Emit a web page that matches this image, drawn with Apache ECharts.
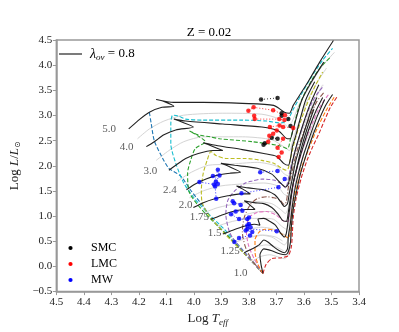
<!DOCTYPE html>
<html><head><meta charset="utf-8">
<script src="https://cdn.jsdelivr.net/npm/echarts@6/dist/echarts.min.js"></script>
<style>html,body{margin:0;padding:0;background:#fff}#c{width:399px;height:332px}</style>
</head><body><div id="c"></div>
<script>
// ---------- black tracks (log Teff, log L) ----------
const track50 = [[4.237,2.732],[4.205,2.889],[4.162,3.064],[4.116,3.162],[4.073,3.182],[4.109,3.279],[4.137,3.318],[4.073,3.260],[3.966,3.260],[3.824,3.240],[3.710,3.201],[3.671,3.064],[3.653,3.045],[3.639,3.201],[3.621,3.357],[3.585,3.670],[3.543,4.061],[3.493,4.490]];
const track40 = [[4.173,2.381],[4.144,2.479],[4.109,2.615],[4.066,2.713],[4.002,2.771],[4.044,2.869],[4.073,2.928],[4.030,2.889],[3.895,2.830],[3.753,2.771],[3.692,2.693],[3.660,2.537],[3.650,2.537],[3.639,2.732],[3.625,3.006],[3.607,3.318],[3.575,3.650],[3.528,4.061]];
const track30 = [[4.091,1.912],[4.066,2.010],[4.030,2.146],[3.984,2.244],[3.931,2.303],[3.895,2.303],[3.938,2.400],[3.966,2.459],[3.913,2.400],[3.824,2.322],[3.746,2.244],[3.699,2.186],[3.674,2.049],[3.657,2.010],[3.649,2.146],[3.642,2.381],[3.628,2.635],[3.614,2.928],[3.593,3.318],[3.561,3.670]];
const track24 = [[4.027,1.523],[3.995,1.639],[3.956,1.737],[3.913,1.815],[3.867,1.854],[3.831,1.873],[3.874,1.990],[3.902,2.049],[3.852,2.010],[3.770,1.951],[3.717,1.834],[3.689,1.678],[3.667,1.580],[3.657,1.639],[3.649,1.854],[3.639,2.146],[3.625,2.439],[3.603,2.830],[3.578,3.221],[3.546,3.611]];
const track20 = [[4.002,1.170],[3.966,1.268],[3.924,1.346],[3.877,1.404],[3.831,1.443],[3.795,1.443],[3.824,1.541],[3.845,1.600],[3.802,1.561],[3.746,1.521],[3.706,1.424],[3.685,1.287],[3.671,1.190],[3.660,1.248],[3.653,1.463],[3.642,1.756],[3.632,2.049],[3.617,2.342],[3.596,2.732],[3.575,3.084],[3.553,3.357]];
const track175 = [[3.938,0.936],[3.902,1.014],[3.859,1.092],[3.813,1.131],[3.778,1.131],[3.802,1.248],[3.817,1.307],[3.781,1.268],[3.746,1.248],[3.717,1.170],[3.696,1.053],[3.678,0.916],[3.664,0.896],[3.657,1.072],[3.649,1.365],[3.639,1.658],[3.625,1.990],[3.610,2.342],[3.589,2.732],[3.564,3.123]];
const track15 = [[3.895,0.643],[3.859,0.721],[3.817,0.799],[3.781,0.838],[3.760,0.818],[3.767,0.936],[3.746,0.955],[3.724,0.896],[3.703,0.818],[3.685,0.662],[3.671,0.584],[3.664,0.662],[3.657,0.936],[3.649,1.268],[3.639,1.658],[3.621,2.049],[3.603,2.381],[3.582,2.732],[3.557,3.084],[3.532,3.357]];
const track125 = [[3.817,0.272],[3.788,0.350],[3.763,0.428],[3.746,0.525],[3.731,0.486],[3.710,0.389],[3.689,0.311],[3.671,0.272],[3.660,0.350],[3.657,0.584],[3.649,0.877],[3.642,1.209],[3.632,1.561],[3.617,1.912],[3.600,2.244],[3.578,2.596],[3.553,2.967],[3.525,3.318]];
const track10 = [[3.749,-0.138],[3.756,0.037],[3.760,0.232],[3.746,0.350],[3.717,0.311],[3.689,0.252],[3.667,0.232],[3.657,0.291],[3.649,0.486],[3.646,0.779],[3.639,1.131],[3.628,1.463],[3.614,1.815],[3.596,2.146],[3.575,2.498],[3.550,2.850],[3.521,3.201],[3.496,3.416]];

// ---------- coloured dashed tracks ----------
const blueDash = [[3.749,-0.138],[3.820,0.272],[3.872,0.584],[3.925,0.877],[3.963,1.170],[4.010,1.502],[4.048,1.795],[4.091,1.951],[4.119,2.205],[4.144,2.498],[4.155,2.830],[4.162,3.064]];
const cyanDash = [[3.749,-0.138],[3.820,0.311],[3.890,0.740],[3.952,1.072],[4.000,1.365],[4.037,1.658],[4.066,2.049],[4.084,2.439],[4.084,2.830],[4.077,3.006],[4.055,2.986],[4.030,2.928],[3.966,2.908],[3.824,2.908],[3.735,2.889],[3.685,2.850],[3.660,2.908],[3.639,3.123],[3.610,3.416],[3.575,3.748],[3.532,4.100],[3.496,4.334]];
const greenDash = [[3.749,-0.138],[3.820,0.291],[3.890,0.682],[3.962,1.072],[4.016,1.463],[4.023,1.854],[4.012,2.107],[3.995,2.342],[3.959,2.479],[3.991,2.615],[4.016,2.693],[3.984,2.615],[3.941,2.576],[3.906,2.537],[3.788,2.479],[3.689,2.400],[3.660,2.342],[3.649,2.537],[3.635,2.830],[3.621,3.123],[3.603,3.377],[3.571,3.709],[3.539,3.963],[3.504,4.158]];
const oliveDash = [[3.749,-0.138],[3.820,0.272],[3.890,0.662],[3.945,1.014],[3.970,1.268],[3.973,1.521],[3.966,1.854],[3.952,2.107],[3.938,2.283],[3.920,2.205],[3.884,2.146],[3.813,2.146],[3.753,2.107],[3.710,2.049],[3.681,1.951],[3.664,1.912],[3.657,1.951],[3.649,2.146],[3.639,2.381],[3.621,2.732],[3.603,3.025],[3.582,3.318],[3.557,3.611],[3.532,3.865]];
const purpleDash = [[3.749,-0.138],[3.806,0.213],[3.859,0.564],[3.874,0.740],[3.884,1.033],[3.877,1.307],[3.852,1.502],[3.813,1.658],[3.788,1.697],[3.753,1.736],[3.710,1.717],[3.681,1.639],[3.667,1.561],[3.660,1.658],[3.649,1.951],[3.635,2.244],[3.617,2.576],[3.596,2.928],[3.571,3.260],[3.546,3.475],[3.528,3.592]];
const brownDash = [[3.749,-0.138],[3.788,0.115],[3.813,0.389],[3.824,0.682],[3.817,0.975],[3.795,1.229],[3.770,1.346],[3.735,1.385],[3.710,1.365],[3.689,1.326],[3.671,1.229],[3.664,1.287],[3.657,1.561],[3.642,1.912],[3.625,2.303],[3.603,2.635],[3.578,2.986],[3.553,3.279],[3.525,3.475]];
const pinkDash = [[3.749,-0.138],[3.781,0.154],[3.802,0.428],[3.810,0.740],[3.799,0.975],[3.770,1.072],[3.735,1.092],[3.699,1.014],[3.671,0.896],[3.657,0.896],[3.653,1.072],[3.646,1.365],[3.635,1.717],[3.617,2.107],[3.596,2.479],[3.571,2.830],[3.543,3.162],[3.511,3.416]];
const orangeDash = [[3.749,-0.138],[3.767,0.037],[3.778,0.291],[3.778,0.525],[3.763,0.682],[3.742,0.740],[3.706,0.721],[3.674,0.623],[3.657,0.564],[3.649,0.682],[3.646,0.975],[3.639,1.268],[3.625,1.600],[3.607,1.990],[3.582,2.342],[3.553,2.732],[3.521,3.084],[3.489,3.377]];
const redDash = [[3.749,-0.138],[3.738,0.037],[3.717,0.154],[3.681,0.174],[3.657,0.213],[3.646,0.389],[3.642,0.682],[3.639,0.975],[3.628,1.365],[3.610,1.756],[3.589,2.107],[3.568,2.381],[3.546,2.635],[3.528,2.869],[3.504,3.162],[3.479,3.377]];

// ---------- light grey tracks ----------
const grey1 = [[4.205,2.537],[4.162,2.732],[4.109,2.889],[4.037,3.006],[3.895,3.045],[3.753,3.025],[3.689,2.928],[3.657,2.771],[3.639,2.928],[3.617,3.221],[3.582,3.553],[3.539,3.943],[3.489,4.256]];
const grey2 = [[4.137,2.107],[4.091,2.303],[4.037,2.479],[3.966,2.576],[3.824,2.576],[3.717,2.518],[3.674,2.381],[3.653,2.303],[3.639,2.537],[3.617,2.889],[3.589,3.279],[3.553,3.650],[3.518,3.943]];
const grey3 = [[4.059,1.697],[4.009,1.873],[3.948,2.010],[3.877,2.029],[3.770,2.068],[3.699,1.990],[3.671,1.834],[3.653,1.795],[3.642,2.049],[3.625,2.400],[3.600,2.791],[3.568,3.221],[3.532,3.611]];
const grey4 = [[4.016,1.365],[3.966,1.502],[3.902,1.600],[3.824,1.639],[3.746,1.658],[3.696,1.600],[3.674,1.443],[3.660,1.404],[3.649,1.658],[3.635,2.049],[3.614,2.439],[3.585,2.889],[3.553,3.279]];
const grey5 = [[3.970,1.053],[3.913,1.170],[3.842,1.248],[3.770,1.287],[3.717,1.248],[3.685,1.131],[3.667,1.053],[3.657,1.170],[3.646,1.463],[3.632,1.854],[3.610,2.244],[3.582,2.635],[3.553,3.025]];
const grey6 = [[3.916,0.799],[3.859,0.896],[3.788,0.955],[3.746,0.955],[3.710,0.936],[3.681,0.799],[3.664,0.740],[3.653,0.877],[3.646,1.170],[3.635,1.561],[3.617,1.951],[3.593,2.342],[3.564,2.732]];
const grey7 = [[3.856,0.467],[3.806,0.564],[3.760,0.623],[3.717,0.584],[3.689,0.486],[3.671,0.428],[3.660,0.506],[3.653,0.779],[3.646,1.131],[3.635,1.463]];
const grey8 = [[3.788,0.096],[3.760,0.193],[3.724,0.232],[3.696,0.193],[3.671,0.154],[3.657,0.232],[3.649,0.486],[3.646,0.779]];
const grey9 = [[3.802,0.740],[3.753,0.779],[3.710,0.740],[3.681,0.662],[3.667,0.623]];
const grey10 = [[3.788,0.584],[3.746,0.623],[3.703,0.584],[3.678,0.506]];
const grey11 = [[3.810,1.033],[3.760,1.092],[3.717,1.092],[3.685,0.994]];
const grey12 = [[3.774,0.389],[3.738,0.428],[3.703,0.389],[3.674,0.311]];

// ---------- observed stars ----------
const smcStars = [[3.756,3.318],[3.696,3.348],[3.681,3.045],[3.681,2.996],[3.657,2.928],[3.649,2.791],[3.717,2.557],[3.696,2.537],[3.742,2.449],[3.747,2.420]];
const smcLink1 = [[3.756,3.318],[3.696,3.348]];
const smcLink2 = [[3.742,2.449],[3.717,2.557],[3.696,2.537]];
const lmcStars = [[3.802,3.094],[3.783,3.162],[3.712,3.104],[3.669,3.006],[3.781,2.996],[3.779,2.928],[3.690,2.928],[3.671,2.908],[3.724,2.771],[3.689,2.801],[3.676,2.771],[3.639,2.752],[3.699,2.703],[3.712,2.635],[3.726,2.596],[3.730,2.479],[3.676,2.537],[3.696,2.361],[3.681,2.264],[3.692,2.176]];
const lmcLink1 = [[3.802,3.094],[3.783,3.162],[3.712,3.104],[3.669,3.006]];
const lmcLink2 = [[3.781,2.996],[3.779,2.928],[3.690,2.928],[3.671,2.908]];
const lmcLink3 = [[3.724,2.771],[3.689,2.801],[3.676,2.771],[3.639,2.752]];
const lmcLink4 = [[3.699,2.703],[3.712,2.635],[3.726,2.596],[3.730,2.479]];
const lmcLink5 = [[3.676,2.537],[3.696,2.361],[3.681,2.264],[3.692,2.176]];
const mwStars = [[3.980,1.678],[3.927,1.629],[3.913,1.922],[3.907,1.805],[3.931,1.795],[3.920,1.688],[3.913,1.639],[3.923,1.590],[3.919,1.346],[3.759,1.873],[3.696,1.898],[3.670,1.736],[3.693,1.574],[3.827,1.453],[3.859,1.297],[3.854,1.258],[3.830,1.219],[3.865,1.039],[3.836,0.941],[3.806,0.941],[3.800,0.975],[3.800,0.844],[3.806,0.813],[3.794,0.779],[3.806,0.746],[3.812,0.715],[3.788,0.682],[3.796,0.617],[3.853,0.486],[3.836,0.564],[3.699,0.701],[3.824,1.105],[3.848,1.092]];
const mwLink1 = [[3.759,1.873],[3.696,1.898]];
const mwLink2 = [[3.827,1.453],[3.693,1.574],[3.670,1.736]];
const mwLink3 = [[3.806,0.746],[3.699,0.701]];
const mwLink4 = [[3.980,1.678],[3.927,1.629],[3.913,1.922],[3.907,1.805],[3.920,1.688],[3.923,1.590],[3.919,1.346]];
const mwLink5 = [[3.859,1.297],[3.830,1.219],[3.824,1.105],[3.848,1.092],[3.865,1.039],[3.836,0.941],[3.806,0.941],[3.800,0.844],[3.812,0.715],[3.788,0.682],[3.796,0.617],[3.836,0.564],[3.853,0.486]];

// ---------- mass labels ----------
const massLabels = ['5.0','4.0','3.0','2.4','2.0','1.75','1.5','1.25','1.0'];
const massLabelPos = [[4.308,2.732],[4.245,2.375],[4.158,1.893],[4.087,1.516],[4.030,1.215],[3.980,0.975],[3.925,0.668],[3.868,0.305],[3.830,-0.133]];

const titleText = 'Z = 0.02';
const legendNames = ['SMC','LMC','MW'];
const legendColors = ['#000000','#ff0000','#0000ff'];

// ---------- build chart ----------
const SERIF = '"Liberation Serif","DejaVu Serif","Times New Roman",serif';
const chart = echarts.init(document.getElementById('c'), null, {renderer:'canvas'});
function ln(data, color, width, type, z, smooth) {
  return {type:'line', data:data, symbol:'none', showSymbol:false, smooth:smooth===undefined?0.25:smooth,
    lineStyle:{color:color, width:width, type:type}, z:z, silent:true, animation:false};
}
function dots(data, color) {
  return {type:'scatter', data:data, symbol:'circle', symbolSize:4.5, itemStyle:{color:color}, z:10, silent:true, animation:false};
}
const series = [];
[grey1,grey2,grey3,grey4,grey5,grey6,grey7,grey8,grey9,grey10,grey11,grey12].forEach(g=>series.push(ln(g,'#d4d4d4',1,'solid',1)));
const dash = [4,2];
series.push(ln(blueDash,'#1f77b4',1.1,dash,2));
series.push(ln(cyanDash,'#17becf',1.1,dash,2));
series.push(ln(greenDash,'#2ca02c',1.1,dash,2));
series.push(ln(oliveDash,'#bcbd22',1.1,dash,2));
series.push(ln(purpleDash,'#9467bd',1.1,dash,2));
series.push(ln(brownDash,'#8c564b',1.1,[5,2,1,2],2));
series.push(ln(pinkDash,'#e377c2',1.1,dash,2));
series.push(ln(orangeDash,'#ff7f0e',1.1,dash,2));
series.push(ln(redDash,'#d62728',1.1,dash,2));
[track50,track40,track30,track24,track20,track175,track15,track125,track10].forEach(t=>series.push(ln(t,'#222',1.1,'solid',3)));
[smcLink1,smcLink2].forEach(l=>series.push(ln(l,'#000',0.8,[1,2],9,false)));
[lmcLink1,lmcLink2,lmcLink3,lmcLink4,lmcLink5].forEach(l=>series.push(ln(l,'#ff0000',0.8,[1,2],9,false)));
[mwLink1,mwLink2,mwLink3,mwLink4,mwLink5].forEach(l=>series.push(ln(l,'#0000ff',0.8,[1,2],9,false)));
series.push(dots(smcStars,'#000000'));
series.push(dots(lmcStars,'#ff0000'));
series.push(dots(mwStars,'#0000ff'));
series.push({type:'scatter', data:massLabelPos.map((p,i)=>[p[0],p[1],massLabels[i]]), symbolSize:0, silent:true, animation:false, z:11,
  label:{show:true, position:'inside', formatter:p=>p.data[2], color:'#333', fontFamily:SERIF, fontSize:11}});

const axisCol = '#999';
const fmt = v => (Math.abs(v) < 1e-9 ? 0 : v).toFixed(1).replace('-', '\u2212');
chart.setOption({
  animation:false,
  backgroundColor:'#fff',
  title:{text:titleText, left:204, top:21, textAlign:'center', textStyle:{fontFamily:SERIF, fontSize:13, fontWeight:'normal', color:'#000'}},
  grid:{left:50, right:40, top:40, bottom:37, show:true, borderColor:axisCol, borderWidth:1.5, backgroundColor:'transparent'},
  xAxis:{type:'value', inverse:true, min:3.4, max:4.5, interval:0.1,
    axisLine:{show:true, onZero:false, lineStyle:{color:axisCol, width:1.5}}, axisTick:{show:true, inside:false, length:3.5, lineStyle:{color:axisCol}},
    splitLine:{show:false}, axisLabel:{formatter:fmt, color:'#222', fontFamily:SERIF, fontSize:11, margin:5},
    name:'Log {i|T}{s|eff}', nameLocation:'middle', nameGap:16,
    nameTextStyle:{fontFamily:SERIF, fontSize:13, color:'#222', rich:{i:{fontFamily:SERIF, fontSize:13, fontStyle:'italic', color:'#222'}, s:{fontFamily:SERIF, fontSize:9, fontStyle:'italic', color:'#222', padding:[7,0,0,0]}}}},
  yAxis:{type:'value', min:-0.5, max:4.5, interval:0.5,
    axisLine:{show:true, onZero:false, lineStyle:{color:axisCol, width:1.5}}, axisTick:{show:true, inside:false, length:3.5, lineStyle:{color:axisCol}},
    splitLine:{show:false}, axisLabel:{formatter:fmt, color:'#222', fontFamily:SERIF, fontSize:11, margin:4},
    name:'Log {i|L}/{i|L}{s|\u2299}', nameLocation:'middle', nameGap:25, nameRotate:90,
    nameTextStyle:{fontFamily:SERIF, fontSize:13, color:'#222', rich:{i:{fontFamily:SERIF, fontSize:13, fontStyle:'italic', color:'#222'}, s:{fontFamily:'"DejaVu Sans",sans-serif', fontSize:8, color:'#222', padding:[6,0,0,0]}}}},
  series:series,
  graphic:[
    {type:'line', shape:{x1:59, y1:54, x2:82, y2:54}, style:{stroke:'#222', lineWidth:1.2}, z:20},
    {type:'text', x:90, y:54, style:{text:'{i|\u03bb}{s|ov} = 0.8', verticalAlign:'middle', fill:'#000', font:'13px '+SERIF,
      rich:{i:{fontFamily:SERIF, fontSize:14, fontStyle:'italic', fill:'#000'}, s:{fontFamily:SERIF, fontSize:9, fontStyle:'italic', fill:'#000', padding:[7,0,0,0]}}}, z:20},
  ].concat(legendNames.flatMap((n,i)=>[
    {type:'circle', shape:{cx:70.5, cy:248+i*16, r:2.1}, style:{fill:legendColors[i]}, z:20},
    {type:'text', x:91, y:248+i*16, style:{text:n, verticalAlign:'middle', fill:'#000', font:'12px '+SERIF}, z:20}
  ]))
});
</script></body></html>
